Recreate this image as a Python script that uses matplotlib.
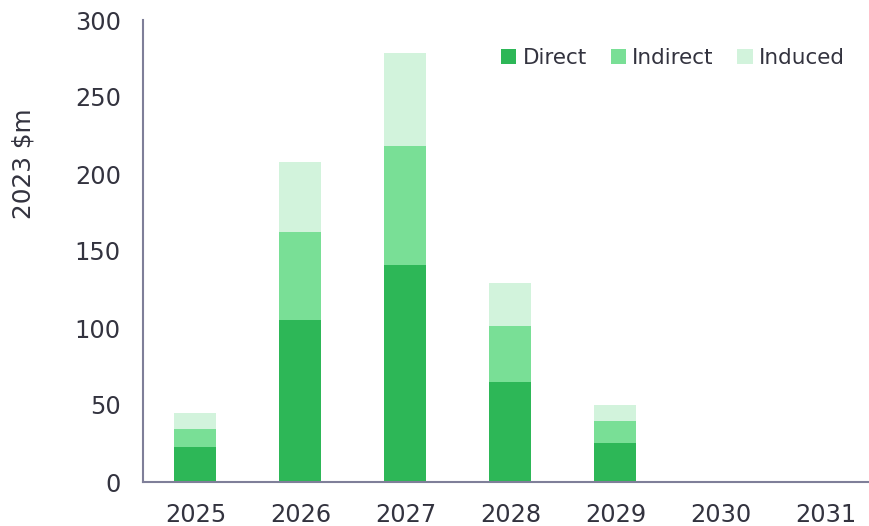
import numpy as np
import matplotlib
matplotlib.use("Agg")
import matplotlib.pyplot as plt
from matplotlib.patches import Patch

plt.rcParams["font.family"] = ["DejaVu Sans"]

# 数据
years = ["2025", "2026", "2027", "2028", "2029", "2030", "2031"]
direct = [22.7, 105.0, 140.6, 65.0, 25.3, 0, 0]
indirect = [12.0, 57.5, 77.5, 36.2, 14.1, 0, 0]
induced = [10.1, 45.2, 60.7, 28.1, 10.9, 0, 0]
series_names = ["Direct", "Indirect", "Induced"]
y_ticks = [0, 50, 100, 150, 200, 250, 300]

colors = ["#2db757", "#79df96", "#d2f3dc"]
text_color = "#33333f"
axis_color = "#7f7f99"

fig = plt.figure(figsize=(8.7, 5.26), dpi=100)
ax = fig.add_axes([143 / 870, 1 - 482 / 526, 1 - 143 / 870, (482 - 20) / 526])

x = np.arange(len(years))
d = np.array(direct)
i = np.array(indirect)
n = np.array(induced)
w = 0.4
ax.bar(x, d, width=w, color=colors[0], linewidth=0)
ax.bar(x, i, width=w, bottom=d, color=colors[1], linewidth=0)
ax.bar(x, n, width=w, bottom=d + i, color=colors[2], linewidth=0)

ax.set_xlim(-0.5, (870 - 143) / 105 - 0.5)
ax.set_ylim(0, 300)
ax.set_xticks(x)
ax.set_xticklabels(years)
ax.set_yticks(y_ticks)
ax.tick_params(axis="both", length=0, labelsize=17.3, labelcolor=text_color)
ax.tick_params(axis="x", pad=15)
ax.tick_params(axis="y", pad=16)

for s in ["top", "right"]:
    ax.spines[s].set_visible(False)
for s in ["left", "bottom"]:
    ax.spines[s].set_color(axis_color)
    ax.spines[s].set_linewidth(1.5)

fig.text(24 / 870, 1 - 164 / 526, "2023 $m", rotation=90, ha="center", va="center",
         fontsize=17.8, color=text_color)

handles = [Patch(facecolor=c, edgecolor="none") for c in colors]
fig.legend(handles, series_names, loc="center right", bbox_to_anchor=(845 / 870, 1 - 58 / 526),
           ncol=3, frameon=False, fontsize=15.5, labelcolor=text_color,
           handlelength=0.7, handleheight=0.7, handletextpad=0.3, columnspacing=1.1,
           borderaxespad=0, borderpad=0)

fig.savefig("out.png", dpi=100)
